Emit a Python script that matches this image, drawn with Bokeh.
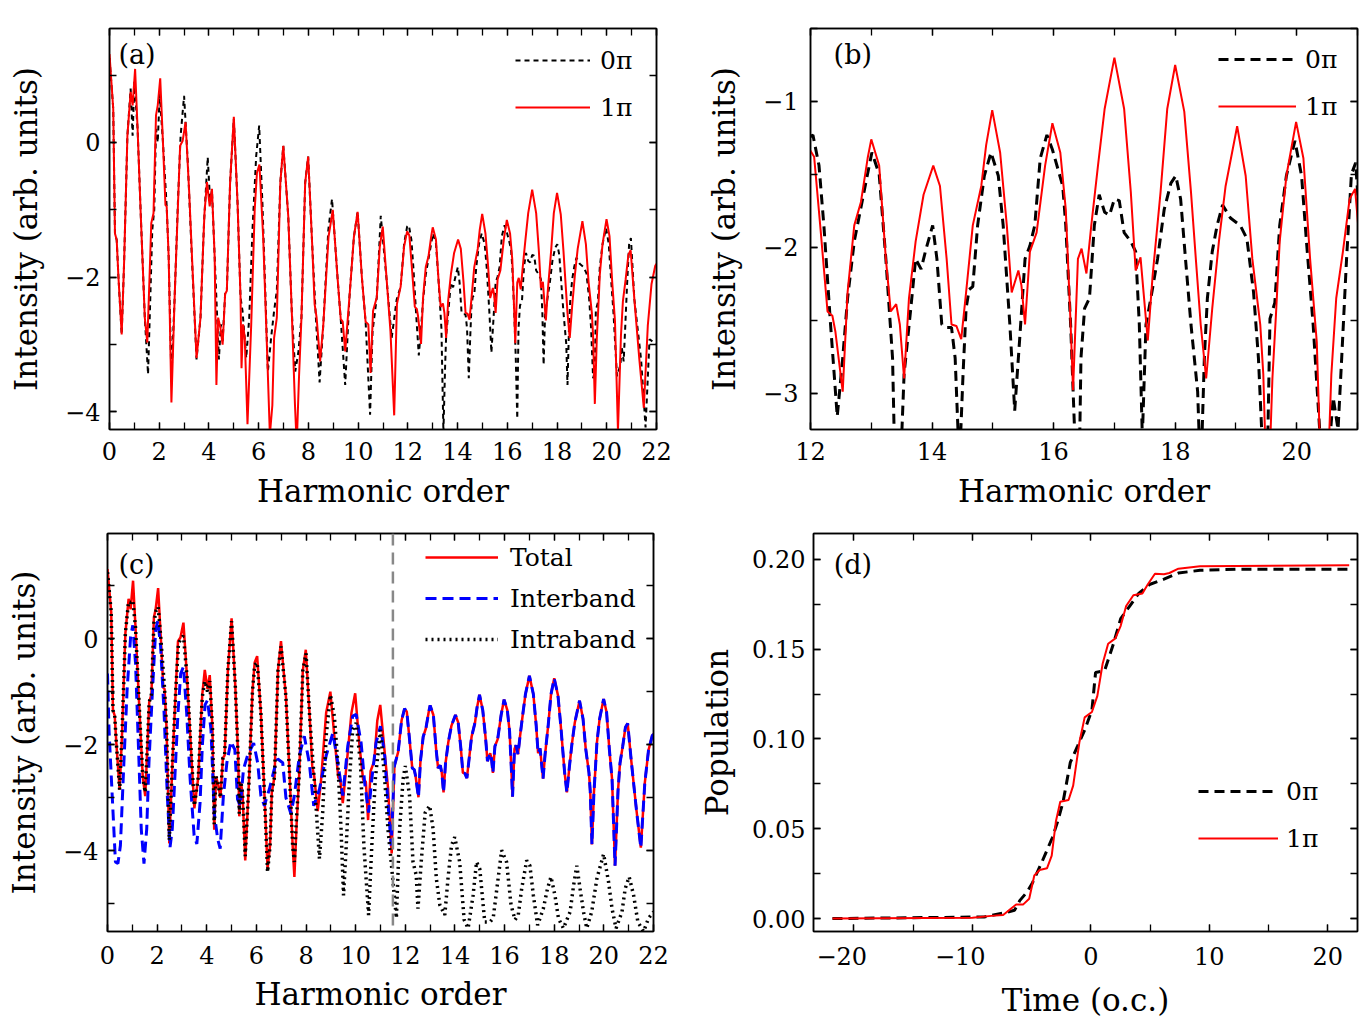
from bokeh.plotting import figure
from bokeh.models import (Range1d, LinearAxis, SingleIntervalTicker, CustomJSTickFormatter,
                          Legend, LegendItem, Label, Span)
from bokeh.layouts import column, row
from bokeh.embed import file_html
from bokeh.resources import INLINE

# ---------------- data ----------------
# harmonic spectra (log10 intensity); 1pi curve = "Total" curve of panel (c)
order_1pi = [0.00, 0.15, 0.22, 0.29, 0.36, 0.49, 0.59, 0.72, 0.85, 0.93,
             1.03, 1.13, 1.26, 1.42, 1.52, 1.61, 1.68, 1.77, 1.87, 1.94,
             2.04, 2.15, 2.25, 2.30, 2.38, 2.49, 2.62, 2.75, 2.84, 2.94,
             3.06, 3.20, 3.33, 3.50, 3.66, 3.76, 3.82, 3.92, 4.03, 4.12,
             4.23, 4.30, 4.37, 4.46, 4.55, 4.65, 4.72, 4.85, 5.00, 5.15,
             5.27, 5.31, 5.37, 5.44, 5.55, 5.70, 5.84, 5.93, 6.03, 6.18,
             6.32, 6.45, 6.55, 6.62, 6.73, 6.87, 6.99, 7.19, 7.33, 7.46,
             7.53, 7.62, 7.72, 7.87, 7.99, 8.15, 8.25, 8.33, 8.47, 8.60,
             8.81, 8.98, 9.17, 9.30, 9.38, 9.48, 9.65, 9.83, 9.98, 10.15,
             10.30, 10.41, 10.50, 10.60, 10.75, 10.87, 10.99, 11.16, 11.30, 11.45,
             11.56, 11.71, 11.85, 11.97, 12.06, 12.17, 12.28, 12.36, 12.41, 12.53,
             12.61, 12.72, 12.83, 12.94, 13.00, 13.13, 13.24, 13.32, 13.41, 13.47,
             13.54, 13.62, 13.73, 13.86, 14.02, 14.13, 14.24, 14.32, 14.40, 14.48,
             14.56, 14.67, 14.81, 14.89, 14.99, 15.12, 15.23, 15.31, 15.42, 15.47,
             15.53, 15.61, 15.72, 15.86, 15.98, 16.11, 16.20, 16.28, 16.32, 16.40,
             16.46, 16.54, 16.62, 16.73, 16.84, 17.00, 17.16, 17.27, 17.35, 17.43,
             17.48, 17.55, 17.63, 17.76, 17.87, 18.00, 18.15, 18.26, 18.34, 18.42,
             18.51, 18.61, 18.72, 18.83, 19.02, 19.16, 19.27, 19.40, 19.45, 19.52,
             19.60, 19.66, 19.72, 19.83, 19.99, 20.11, 20.22, 20.33, 20.45, 20.57,
             20.65, 20.76, 20.87, 20.96, 21.11, 21.31, 21.49, 21.65, 21.80, 21.95,
             22.00]
i_1pi = [1.31, 0.50, -1.35, -1.45, -2.00, -2.85, -1.75, 0.10, 0.75, 0.55,
         1.09, 0.20, -1.10, -2.60, -2.97, -2.00, -1.20, -1.05, 0.40, 0.55,
         0.95, 0.00, -0.93, -0.95, -1.70, -3.86, -2.30, -0.97, -0.05, 0.02,
         0.30, -0.70, -1.80, -3.20, -2.60, -1.60, -1.05, -0.59, -0.95, -0.69,
         -1.70, -3.60, -2.60, -2.75, -3.00, -2.25, -2.20, -0.60, 0.38, -0.90,
         -2.30, -3.35, -2.70, -2.90, -4.18, -2.70, -1.00, -0.45, -0.33, -1.40,
         -2.90, -4.34, -3.90, -2.90, -2.60, -0.60, -0.05, -1.10, -2.50, -3.90,
         -4.49, -3.50, -2.60, -0.60, -0.21, -1.50, -2.40, -2.60, -3.25, -2.70,
         -1.40, -1.00, -2.00, -2.62, -2.66, -3.10, -2.30, -1.40, -1.03, -2.00,
         -2.66, -2.70, -3.42, -2.50, -2.30, -1.55, -1.25, -2.10, -2.80, -4.05,
         -2.40, -2.14, -1.54, -1.32, -1.38, -1.90, -2.44, -2.47, -2.58, -2.99,
         -2.31, -1.85, -1.69, -1.39, -1.26, -1.44, -2.08, -2.44, -2.39, -2.53,
         -2.90, -2.35, -1.96, -1.64, -1.44, -1.58, -2.08, -2.53, -2.54, -2.63,
         -2.31, -1.85, -1.58, -1.30, -1.06, -1.35, -1.85, -2.31, -2.16, -2.26,
         -2.53, -2.03, -1.90, -1.44, -1.15, -1.35, -1.74, -2.53, -2.98, -2.08,
         -2.01, -2.18, -1.85, -1.44, -1.05, -0.70, -1.05, -1.62, -2.16, -2.07,
         -2.31, -2.64, -2.19, -1.62, -1.05, -0.75, -1.07, -1.62, -2.08, -2.53,
         -2.90, -2.42, -1.96, -1.58, -1.17, -1.51, -2.08, -2.53, -2.87, -3.88,
         -2.90, -2.45, -1.96, -1.51, -1.14, -1.39, -2.08, -2.65, -4.28, -2.87,
         -2.35, -2.03, -1.67, -1.60, -2.33, -3.22, -3.94, -2.72, -2.10, -1.83,
         -1.80]

order_0pi = [0.00, 0.15, 0.22, 0.29, 0.36, 0.49, 0.59, 0.72, 0.85, 0.93,
             1.00, 1.13, 1.26, 1.42, 1.55, 1.65, 1.72, 1.80, 1.87, 1.94,
             2.02, 2.15, 2.30, 2.38, 2.49, 2.62, 2.75, 2.86, 3.00, 3.15,
             3.30, 3.50, 3.66, 3.80, 3.95, 4.05, 4.12, 4.23, 4.40, 4.48,
             4.55, 4.65, 4.72, 4.85, 5.00, 5.15, 5.27, 5.35, 5.50, 5.62,
             5.75, 5.90, 6.02, 6.15, 6.30, 6.37, 6.50, 6.62, 6.73, 6.87,
             6.99, 7.19, 7.33, 7.47, 7.60, 7.72, 7.87, 7.99, 8.15, 8.30,
             8.45, 8.60, 8.80, 8.95, 9.17, 9.30, 9.48, 9.65, 9.83, 9.98,
             10.15, 10.30, 10.48, 10.58, 10.75, 10.91, 11.16, 11.35, 11.55, 11.71,
             11.85, 11.97, 12.04, 12.14, 12.22, 12.33, 12.44, 12.53, 12.61, 12.72,
             12.89, 13.01, 13.13, 13.24, 13.35, 13.43, 13.50, 13.54, 13.65, 13.73,
             13.82, 13.89, 14.01, 14.08, 14.16, 14.24, 14.32, 14.38, 14.45, 14.51,
             14.56, 14.61, 14.67, 14.75, 14.86, 14.97, 15.09, 15.17, 15.28, 15.36,
             15.44, 15.53, 15.61, 15.69, 15.78, 15.89, 15.98, 16.15, 16.20, 16.28,
             16.34, 16.40, 16.45, 16.51, 16.59, 16.67, 16.75, 16.84, 16.92, 17.00,
             17.08, 17.16, 17.27, 17.35, 17.41, 17.46, 17.52, 17.60, 17.71, 17.82,
             17.93, 18.01, 18.09, 18.17, 18.26, 18.37, 18.42, 18.48, 18.53, 18.61,
             18.69, 18.78, 18.91, 19.07, 19.18, 19.29, 19.37, 19.45, 19.52, 19.56,
             19.64, 19.72, 19.83, 19.97, 20.08, 20.16, 20.27, 20.41, 20.55, 20.60,
             20.68, 20.74, 20.82, 20.90, 20.97, 21.11, 21.38, 21.56, 21.72, 21.90,
             22.00]
i_0pi = [1.25, 0.50, -1.35, -1.45, -2.00, -2.85, -1.75, 0.10, 0.80, 0.10,
         0.90, 0.20, -1.10, -2.60, -3.44, -2.20, -1.30, -1.00, 0.20, 0.00,
         0.72, 0.00, -0.95, -1.70, -3.50, -2.30, -0.90, 0.10, 0.69, -0.30,
         -1.60, -3.22, -2.60, -1.20, -0.22, -0.90, -0.70, -1.70, -3.22, -2.70,
         -2.95, -2.25, -2.20, -0.60, 0.35, -0.90, -2.30, -2.50, -3.20, -2.60,
         -1.30, -0.20, 0.25, -0.90, -2.60, -3.40, -2.90, -2.50, -2.20, -0.60,
         -0.05, -1.10, -2.50, -3.40, -3.10, -2.60, -0.60, -0.21, -1.50, -2.60,
         -3.56, -2.70, -1.30, -0.84, -2.00, -2.62, -3.60, -2.30, -1.40, -1.03,
         -2.00, -2.66, -4.04, -2.80, -2.30, -1.09, -2.10, -2.90, -2.33, -2.14,
         -1.50, -1.25, -1.23, -1.44, -1.85, -2.53, -3.16, -2.76, -2.35, -1.96,
         -1.60, -1.35, -1.50, -2.08, -2.76, -4.30, -3.30, -2.87, -2.42, -2.08,
         -2.15, -2.03, -1.85, -2.08, -2.53, -2.55, -2.55, -2.76, -3.50, -2.87,
         -2.42, -2.29, -2.27, -1.85, -1.51, -1.35, -1.51, -1.85, -2.53, -3.12,
         -2.64, -2.08, -1.99, -1.85, -1.39, -1.23, -1.33, -1.58, -1.85, -2.53,
         -3.20, -4.10, -2.76, -2.42, -2.35, -1.85, -1.64, -1.76, -1.78, -1.67,
         -1.68, -1.90, -1.96, -2.03, -2.53, -3.30, -2.53, -2.35, -2.08, -1.74,
         -1.56, -1.51, -1.67, -2.08, -2.53, -2.99, -3.60, -2.76, -2.35, -2.03,
         -1.85, -1.71, -1.80, -1.85, -1.94, -2.31, -2.76, -3.50, -3.40, -2.49,
         -2.38, -1.85, -1.51, -1.27, -1.51, -1.96, -2.53, -3.47, -3.30, -3.03,
         -3.25, -2.76, -2.08, -1.50, -1.42, -2.33, -3.22, -4.23, -2.92, -2.97,
         -3.00]

# interband contribution: own values below order 11.5, identical to total above it
order_inter_low = [0.00, 0.06, 0.19, 0.32, 0.42, 0.52, 0.66, 0.79, 0.93, 1.02,
                   1.13, 1.27, 1.36, 1.47, 1.58, 1.67, 1.80, 1.94, 2.03, 2.14,
                   2.28, 2.41, 2.52, 2.61, 2.71, 2.84, 2.95, 3.06, 3.19, 3.33,
                   3.49, 3.60, 3.73, 3.82, 3.93, 4.03, 4.17, 4.30, 4.44, 4.54,
                   4.67, 4.81, 4.97, 5.13, 5.24, 5.35, 5.48, 5.64, 5.89, 6.05,
                   6.18, 6.32, 6.52, 6.72, 6.86, 7.06, 7.19, 7.39, 7.53, 7.73,
                   7.93, 8.13, 8.31, 8.54, 8.81, 9.08, 9.28, 9.48, 9.68, 9.88,
                   10.02, 10.22, 10.36, 10.52, 10.65, 10.82, 11.00, 11.17, 11.30, 11.43]
i_inter_low = [-0.66, -1.72, -2.96, -4.21, -4.24, -3.90, -2.34, -0.97, 0.03, 0.25,
               -0.47, -2.34, -3.59, -4.24, -3.59, -2.34, -1.09, 0.16, 0.34, -0.15,
               -1.40, -2.96, -3.93, -3.59, -2.65, -1.40, -0.66, -0.53, -1.40, -2.65,
               -3.71, -3.87, -3.09, -2.03, -1.25, -1.16, -1.72, -3.28, -3.78, -3.96,
               -2.96, -2.34, -1.94, -2.09, -3.03, -3.15, -2.46, -2.21, -1.97, -2.34,
               -2.96, -3.15, -2.84, -2.46, -2.27, -2.34, -3.00, -3.30, -2.96, -2.21,
               -1.84, -2.34, -3.15, -2.84, -2.21, -1.78, -2.34, -2.96, -2.03, -1.46,
               -1.43, -1.97, -2.71, -3.28, -2.65, -1.97, -1.65, -2.21, -3.09, -3.90]
order_inter = order_inter_low + [x for x in order_1pi if x >= 11.56]
i_inter = i_inter_low + [y for x, y in zip(order_1pi, i_1pi) if x >= 11.56]

order_intra = [0.00, 0.15, 0.22, 0.29, 0.36, 0.49, 0.59, 0.72, 0.85, 0.93,
               1.02, 1.13, 1.26, 1.42, 1.52, 1.61, 1.68, 1.77, 1.87, 1.96,
               2.04, 2.15, 2.30, 2.38, 2.49, 2.62, 2.75, 2.86, 2.96, 3.06,
               3.20, 3.33, 3.50, 3.66, 3.76, 3.82, 3.92, 4.03, 4.12, 4.23,
               4.30, 4.37, 4.46, 4.55, 4.65, 4.72, 4.85, 5.00, 5.15, 5.27,
               5.31, 5.37, 5.44, 5.55, 5.70, 5.84, 5.93, 6.03, 6.18, 6.32,
               6.45, 6.55, 6.62, 6.73, 6.87, 6.99, 7.19, 7.33, 7.46, 7.53,
               7.60, 7.72, 7.87, 8.00, 8.15, 8.34, 8.54, 8.67, 8.81, 8.98,
               9.14, 9.28, 9.41, 9.51, 9.62, 9.75, 9.88, 10.02, 10.19, 10.33,
               10.52, 10.65, 10.79, 11.00, 11.17, 11.30, 11.43, 11.64, 11.77, 11.91,
               12.00, 12.17, 12.31, 12.44, 12.51, 12.64, 12.80, 12.98, 13.12, 13.25,
               13.39, 13.59, 13.72, 13.86, 13.99, 14.19, 14.37, 14.53, 14.73, 14.87,
               15.00, 15.10, 15.20, 15.41, 15.54, 15.74, 15.88, 16.08, 16.26, 16.42,
               16.55, 16.69, 16.89, 17.02, 17.16, 17.33, 17.56, 17.73, 17.87, 18.03,
               18.17, 18.37, 18.64, 18.78, 18.91, 19.04, 19.18, 19.31, 19.51, 19.72,
               19.99, 20.19, 20.33, 20.49, 20.73, 20.86, 21.02, 21.20, 21.37, 21.60,
               21.80, 22.00]
i_intra = [1.25, 0.50, -1.35, -1.45, -2.00, -2.85, -1.75, 0.10, 0.70, 0.68,
           0.72, 0.20, -1.10, -2.60, -2.90, -2.00, -1.20, -1.05, 0.30, 0.53,
           0.60, 0.00, -0.95, -1.70, -3.80, -2.30, -0.97, -0.10, 0.00, 0.05,
           -0.70, -1.80, -3.15, -2.60, -1.60, -1.10, -0.80, -1.00, -0.80, -1.70,
           -3.50, -2.60, -2.75, -3.00, -2.25, -2.20, -0.60, 0.33, -0.90, -2.30,
           -3.30, -2.70, -2.90, -4.10, -2.70, -1.00, -0.50, -0.45, -1.40, -2.90,
           -4.40, -3.90, -2.90, -2.60, -0.60, -0.15, -1.10, -2.50, -3.90, -4.21,
           -3.50, -2.60, -0.60, -0.28, -1.50, -2.71, -4.15, -3.28, -1.84, -1.06,
           -1.46, -2.34, -3.59, -4.84, -3.90, -2.65, -1.72, -1.59, -2.34, -3.90,
           -5.21, -3.90, -2.65, -1.72, -2.65, -3.59, -4.21, -5.27, -3.59, -2.65,
           -2.40, -2.96, -4.21, -4.46, -5.09, -4.21, -3.28, -3.15, -3.59, -4.52,
           -5.02, -5.21, -4.52, -3.90, -3.74, -4.21, -5.30, -5.46, -4.84, -4.21,
           -4.34, -4.84, -5.34, -5.34, -5.27, -4.52, -3.99, -4.21, -5.02, -5.30,
           -5.21, -4.71, -4.18, -4.28, -4.84, -5.40, -5.09, -4.71, -4.49, -4.84,
           -5.27, -5.46, -5.15, -4.65, -4.28, -4.71, -5.15, -5.46, -5.15, -4.52,
           -4.06, -4.59, -5.09, -5.46, -5.15, -4.71, -4.49, -4.84, -5.34, -5.52,
           -5.27, -5.15]

# population vs time (optical cycles)
t_0pi = [-21.8, -9.0, -7.2, -6.44, -6.0, -5.38, -4.92, -4.16, -3.25, -2.8,
         -2.34, -1.73, -1.12, -0.52, 0.09, 0.4, 1.16, 1.91, 2.52, 3.28,
         4.04, 4.95, 6.17, 7.39, 9.21, 12.25, 21.8]
pop_0pi = [0.0, 0.0009, 0.0033, 0.0046, 0.010, 0.0148, 0.020, 0.031, 0.045, 0.054,
           0.065, 0.087, 0.096, 0.105, 0.116, 0.137, 0.138, 0.153, 0.167, 0.174,
           0.181, 0.186, 0.189, 0.1924, 0.1939, 0.1945, 0.1945]
t_1pi = [-21.8, -10.0, -8.4, -7.4, -6.75, -6.3, -5.7, -5.2, -4.77, -4.32,
         -3.7, -3.3, -2.95, -2.58, -1.88, -1.49, -0.97, -0.52, 0.09, 0.55,
         1.0, 1.46, 2.07, 2.52, 2.98, 3.59, 4.35, 4.8, 5.41, 6.17,
         6.63, 7.39, 9.21, 21.8]
pop_1pi = [0.0, 0.0004, 0.0015, 0.002, 0.0055, 0.0078, 0.0079, 0.011, 0.024, 0.027,
           0.028, 0.035, 0.054, 0.065, 0.066, 0.074, 0.098, 0.112, 0.115, 0.124,
           0.142, 0.153, 0.156, 0.163, 0.174, 0.180, 0.181, 0.186, 0.192, 0.1917,
           0.1924, 0.1948, 0.1961, 0.1967]

phase_labels = ["0π", "1π"]
part_labels = ["Total", "Interband", "Intraband"]
cutoff_order = 11.5

# ---------------- styling helpers ----------------
FONT = "DejaVu Serif"
TICK_FS = "24px"
LABEL_FS = "31px"
LEG_FS = "25px"

MINUS_FMT = "return tick.toFixed(0).replace('-', '\\u2212');"
# negative labels: digits centred on the tick, minus sign hanging to the left
HANG_FMT = ("var s = Math.abs(tick).toFixed(0);"
            "return tick < 0 ? '\\u2212' + s + '\\u2003' : s;")


def make_fig(xr, yr, w, h, bl, br, bt, bb):
    p = figure(width=w, height=h, x_range=Range1d(*xr), y_range=Range1d(*yr),
               output_backend="svg", toolbar_location=None,
               min_border_left=bl, min_border_right=br,
               min_border_top=bt, min_border_bottom=bb)
    p.xgrid.visible = False
    p.ygrid.visible = False
    p.outline_line_color = "black"
    p.outline_line_width = 1.5
    p.background_fill_color = "white"
    p.border_fill_color = "white"
    return p


def style_axis(ax, ticker, code, labels=True, standoff=10):
    ax.ticker = ticker
    ax.formatter = CustomJSTickFormatter(code=code if labels else "return '';")
    ax.major_tick_in = 7
    ax.major_tick_out = 0
    ax.minor_tick_in = 7
    ax.minor_tick_out = 0
    ax.major_tick_line_color = "black"
    ax.minor_tick_line_color = "black"
    ax.major_tick_line_width = 1.3
    ax.minor_tick_line_width = 1.3
    ax.axis_line_color = "black"
    ax.axis_line_width = 1.5
    ax.major_label_text_font = FONT
    ax.major_label_text_color = "black"
    ax.major_label_text_font_size = TICK_FS if labels else "0px"
    ax.major_label_standoff = standoff if labels else 0
    ax.axis_label_text_font = FONT
    ax.axis_label_text_font_size = LABEL_FS
    ax.axis_label_text_font_style = "normal"
    ax.axis_label_text_color = "black"


def frame_axes(p, xtick, ytick, xcode, ycode, xlabel, ylabel, xstand, ystand, xls, yls):
    style_axis(p.xaxis[0], xtick, xcode, True, xstand)
    style_axis(p.yaxis[0], ytick, ycode, True, ystand)
    p.xaxis[0].axis_label = xlabel
    p.yaxis[0].axis_label = ylabel
    p.xaxis[0].axis_label_standoff = xls
    p.yaxis[0].axis_label_standoff = yls
    top = LinearAxis()
    style_axis(top, xtick, xcode, False)
    p.add_layout(top, "above")
    right = LinearAxis()
    style_axis(right, ytick, ycode, False)
    p.add_layout(right, "right")


def make_legend(items, loc, gw, spacing, standoff):
    return Legend(items=items, location=loc, glyph_width=gw, glyph_height=30,
                  label_height=30, label_standoff=standoff, spacing=spacing,
                  padding=0, margin=0, border_line_alpha=0, background_fill_alpha=0,
                  label_text_font=FONT, label_text_font_size=LEG_FS,
                  label_text_color="black")


def panel_label(p, x, y, text):
    p.add_layout(Label(x=x, y=y, text=text, text_font=FONT, text_font_size="27px",
                       text_baseline="top", text_color="black"))


# ---------------- panel (a) ----------------
pa = make_fig((0, 22), (-4.26, 1.69), 685, 515, 109, 29, 28, 86)
frame_axes(pa, SingleIntervalTicker(interval=2, num_minor_ticks=2),
           SingleIntervalTicker(interval=2, num_minor_ticks=2),
           MINUS_FMT, MINUS_FMT, "Harmonic order", "Intensity (arb. units)", 12, 9, 10, 18)
ra0 = pa.line(order_0pi, i_0pi, line_color="black", line_width=2, line_dash="5 4")
ra1 = pa.line(order_1pi, i_1pi, line_color="red", line_width=2)
pa.add_layout(make_legend([LegendItem(label=phase_labels[0], renderers=[ra0]),
                           LegendItem(label=phase_labels[1], renderers=[ra1])],
                          (406, 307), 75, 17, 10))
panel_label(pa, 0.36, 1.54, "(a)")

# ---------------- panel (b) ----------------
pb = make_fig((12, 21), (-3.25, -0.5), 685, 515, 125, 13, 28, 86)
frame_axes(pb, SingleIntervalTicker(interval=2, num_minor_ticks=2),
           SingleIntervalTicker(interval=1, num_minor_ticks=2),
           MINUS_FMT, MINUS_FMT, "Harmonic order", "Intensity (arb. units)", 12, 12, 10, 18)
rb0 = pb.line(order_0pi, i_0pi, line_color="black", line_width=3, line_dash="10 6")
rb1 = pb.line(order_1pi, i_1pi, line_color="red", line_width=2)
pb.add_layout(make_legend([LegendItem(label=phase_labels[0], renderers=[rb0]),
                           LegendItem(label=phase_labels[1], renderers=[rb1])],
                          (408, 308), 78, 17, 9))
panel_label(pb, 12.38, -0.57, "(b)")

# ---------------- panel (c) ----------------
pc = make_fig((0, 22), (-5.52, 1.98), 685, 505, 107, 32, 18, 87)
frame_axes(pc, SingleIntervalTicker(interval=2, num_minor_ticks=2),
           SingleIntervalTicker(interval=2, num_minor_ticks=2),
           MINUS_FMT, MINUS_FMT, "Harmonic order", "Intensity (arb. units)", 14, 9, 9, 18)
pc.add_layout(Span(location=cutoff_order, dimension="height", line_color="#888888",
                   line_width=2.5, line_dash="12 7"))
rc_tot = pc.line(order_1pi, i_1pi, line_color="red", line_width=2.5)
rc_inter = pc.line(order_inter, i_inter, line_color="blue", line_width=3, line_dash="11 6")
rc_intra = pc.line(order_intra, i_intra, line_color="black", line_width=3.5, line_dash="2 4")
pc.add_layout(make_legend([LegendItem(label=part_labels[0], renderers=[rc_tot]),
                           LegendItem(label=part_labels[1], renderers=[rc_inter]),
                           LegendItem(label=part_labels[2], renderers=[rc_intra])],
                          (318, 277), 73, 11, 12))
panel_label(pc, 0.44, 1.69, "(c)")

# ---------------- panel (d) ----------------
pd = make_fig((-23.4, 22.5), (-0.0072, 0.2144), 685, 505, 128, 13, 18, 87)
frame_axes(pd, SingleIntervalTicker(interval=10, num_minor_ticks=2),
           SingleIntervalTicker(interval=0.05, num_minor_ticks=2),
           HANG_FMT, "return tick.toFixed(2);", "Time (o.c.)", "Population", 11, 8, 8, 14)
rd0 = pd.line(t_0pi, pop_0pi, line_color="black", line_width=3, line_dash="10 6")
rd1 = pd.line(t_1pi, pop_1pi, line_color="red", line_width=2)
pd.add_layout(make_legend([LegendItem(label=phase_labels[0], renderers=[rd0]),
                           LegendItem(label=phase_labels[1], renderers=[rd1])],
                          (385, 78), 80, 17, 8))
panel_label(pd, -21.7, 0.206, "(d)")

layout = column(row(pa, pb), row(pc, pd))
with open("out.html", "w", encoding="utf-8") as f:
    f.write(file_html(layout, INLINE))
